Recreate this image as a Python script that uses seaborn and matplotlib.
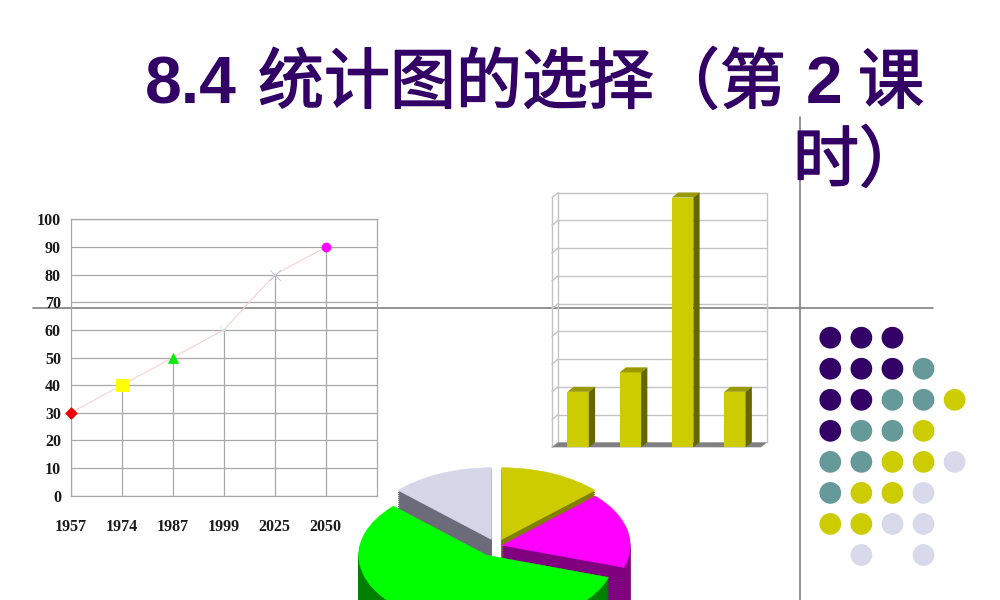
import matplotlib
matplotlib.use('Agg')
import matplotlib.pyplot as plt
import matplotlib.patheffects as pe
import numpy as np
import seaborn as sns
from matplotlib.patches import Polygon

sns.set_theme(style='white')
plt.rcParams['font.family'] = ['Liberation Sans', 'Noto Sans CJK SC', 'DejaVu Sans']

# ── Data ─────────────────────────────────────────────────────────────────────
years = ['1957', '1974', '1987', '1999', '2025', '2050']
line_values = [30, 40, 50, 60, 80, 90]
line_markers = ['D', 's', '^', 'x', 'x', 'o']
line_colors = ['#ee0000', '#ffff00', '#00ee00', '#c8f0f0', '#c0c0e0', '#ff00ff']
marker_sizes = [36, 70, 50, 42, 60, 42]
y_ticks = [0, 10, 20, 30, 40, 50, 60, 70, 80, 90, 100]

bar_labels = ['A', 'B', 'C', 'D']
bar_values = [2, 2.7, 9, 2]

pie_values = [0.13, 0.17, 0.57, 0.13]
pie_explode = [0.10, 0.045, 0.15, 0.10]
pie_tops = ['#cccc00', '#ff00ff', '#00ff00', '#d6d6e8']
pie_sides = ['#808000', '#800080', '#008000', '#6b6b7a']

dot_cols = [0, 1, 2,
            0, 1, 2, 3,
            0, 1, 2, 3, 4,
            0, 1, 2, 3,
            0, 1, 2, 3, 4,
            0, 1, 2, 3,
            0, 1, 2, 3,
            1, 3]
dot_rows = [0, 0, 0,
            1, 1, 1, 1,
            2, 2, 2, 2, 2,
            3, 3, 3, 3,
            4, 4, 4, 4, 4,
            5, 5, 5, 5,
            6, 6, 6, 6,
            7, 7]
dot_groups = list('PPP' 'PPPT' 'PPTTY' 'PTTY' 'TTYYL' 'TYYL' 'YYLL' 'LL')
dot_palette = {'P': '#330066', 'T': '#669999', 'Y': '#cccc00', 'L': '#d9d9ec'}

W, H = 1000, 600
PURPLE = '#330066'
GRID = '#a8a8a8'

fig = plt.figure(figsize=(W / 100, H / 100), dpi=100, facecolor='white')


def px_axes(left, top, right, bottom, **kw):
    ax = fig.add_axes([left / W, 1 - bottom / H, (right - left) / W, (bottom - top) / H], **kw)
    ax.patch.set_alpha(0)
    return ax


# ── Slide rules behind everything ────────────────────────────────────────────
deco = px_axes(0, 0, W, H)
deco.set_xlim(0, W)
deco.set_ylim(H, 0)
deco.axis('off')
deco.plot([33, 933], [308, 308], color='#808080', lw=1.2)
deco.plot([800, 800], [117, 600], color='#808080', lw=1.2)

# ── Line chart ───────────────────────────────────────────────────────────────
ax = px_axes(70.7, 219.5, 376.7, 495.7)
x_pos = np.arange(len(years))
sns.lineplot(x=x_pos, y=line_values, ax=ax, color='#f5d0d4', lw=0.8, zorder=3)
ax.vlines(x_pos, 0, line_values, color=GRID, lw=0.9, zorder=2)
for xp, val, mk, col, sz in zip(x_pos, line_values, line_markers, line_colors, marker_sizes):
    sns.scatterplot(x=[xp], y=[val], marker=mk, color=col, s=sz, ax=ax, zorder=4,
                    edgecolor=col if mk != 'x' else None, clip_on=False)
ax.set_xlim(0, 6)
ax.set_ylim(0, 100)
ax.set_yticks(y_ticks)
ax.set_xticks(x_pos)
ax.set_xticklabels(years)
ax.yaxis.grid(True, color=GRID, lw=0.9)
ax.set_axisbelow(True)
for s in ax.spines.values():
    s.set_color(GRID)
    s.set_linewidth(0.9)
ax.tick_params(axis='x', length=0, pad=17)
ax.tick_params(axis='y', length=0, pad=7)
for lab in ax.get_xticklabels() + ax.get_yticklabels():
    lab.set_family(['Liberation Serif'])
    lab.set_fontweight('bold')
    lab.set_fontsize(11.5)
    lab.set_color('#1a1a1a')

# ── Bar chart with a drawn-on depth ──────────────────────────────────────────
bx = px_axes(552, 197.5, 761, 447.3)
BAR_DX, BAR_DY = 0.12, 0.18
sns.barplot(x=bar_labels, y=bar_values, color=pie_tops[0], width=0.41, saturation=1, ax=bx, zorder=5, linewidth=0)
bars = list(bx.patches)
bx.set_xlim(-0.5, 3.5)
bx.set_ylim(0, 9)
bx.axis('off')
x0, x1 = -0.5, 3.5
for gy in np.arange(0, 10):
    wall_col = '#c4c4c4'
    if gy > 0:
        bx.plot([x0 + BAR_DX, x1 + BAR_DX], [gy + BAR_DY, gy + BAR_DY], color=wall_col, lw=1, clip_on=False, zorder=1)
    bx.plot([x0, x0 + BAR_DX], [gy, gy + BAR_DY], color=wall_col, lw=1, clip_on=False, zorder=1)
bx.plot([x0, x0], [0, 9], color='#c4c4c4', lw=1, clip_on=False, zorder=1)
bx.plot([x0 + BAR_DX] * 2, [BAR_DY, 9 + BAR_DY], color='#c4c4c4', lw=1, clip_on=False, zorder=1)
bx.plot([x1 + BAR_DX] * 2, [BAR_DY, 9 + BAR_DY], color='#c4c4c4', lw=1, clip_on=False, zorder=1)
bx.add_patch(Polygon([(x0, 0), (x1, 0), (x1 + BAR_DX, BAR_DY), (x0 + BAR_DX, BAR_DY)],
                     color='#808080', lw=0, clip_on=False, zorder=2))
for bar in bars:
    l, r, t = bar.get_x(), bar.get_x() + bar.get_width(), bar.get_height()
    bar.set_clip_on(False)
    bx.add_patch(Polygon([(l, t), (r, t), (r + BAR_DX, t + BAR_DY), (l + BAR_DX, t + BAR_DY)],
                         facecolor='#999900', lw=0, clip_on=False, zorder=5))
    bx.add_patch(Polygon([(r, 0), (r + BAR_DX, BAR_DY), (r + BAR_DX, t + BAR_DY), (r, t)],
                         facecolor='#666600', lw=0, clip_on=False, zorder=5))

# ── Exploded pie, stacked up to look solid ───────────────────────────────────
PIE_R, PIE_SQUASH = 128, 0.56
PIE_CX, PIE_CY = 496.5, 546
PIE_DEPTH = 60
px = px_axes(PIE_CX - PIE_R, PIE_CY - PIE_R * PIE_SQUASH, PIE_CX + PIE_R, PIE_CY + PIE_R * PIE_SQUASH)
n_layers = 30
GREEN = 2
for k in range(n_layers + 1):
    top = k == n_layers
    drop = (n_layers - k) / n_layers * PIE_DEPTH / (PIE_R * PIE_SQUASH)
    cols = pie_tops if top else pie_sides
    wedges, _ = px.pie(pie_values, explode=pie_explode, colors=cols, startangle=90, counterclock=False,
                       center=(0, -drop), radius=1, normalize=False)
    for i, w in enumerate(wedges):
        w.set_edgecolor(cols[i])
        w.set_linewidth(0.4)
        w.set_clip_on(False)
        w.set_zorder(k + 1 + (100 if i == GREEN else 0))
px.set_aspect('auto')
px.set_xlim(-1, 1)
px.set_ylim(-1, 1)
px.axis('off')

# ── Dot pattern on the right ─────────────────────────────────────────────────
dx = px_axes(830.3, 337.7, 954.6, 555)
sns.scatterplot(x=dot_cols, y=dot_rows, hue=dot_groups, palette=dot_palette, s=245, linewidth=0,
                legend=False, clip_on=False, ax=dx)
dx.set_xlim(0, 4)
dx.set_ylim(7, 0)
dx.axis('off')

# ── Title ────────────────────────────────────────────────────────────────────
# latin digits are bold, the CJK only a bit heavier than regular, hence the stroke
title_bits = [('8.4', 145, 103, 'bold'), ('统计图的选择（第', 258, 103, 'regular'), ('2', 806, 103, 'bold'),
              ('课', 858, 103, 'regular'), ('时）', 793, 181, 'regular')]
for txt, tx, ty, wt in title_bits:
    t = fig.text(tx / W, 1 - ty / H, txt, fontsize=47.5, fontweight=wt, color=PURPLE, va='baseline', ha='left')
    if wt == 'regular':
        t.set_path_effects([pe.withStroke(linewidth=1.1, foreground=PURPLE)])

fig.savefig('out.png', dpi=100)
